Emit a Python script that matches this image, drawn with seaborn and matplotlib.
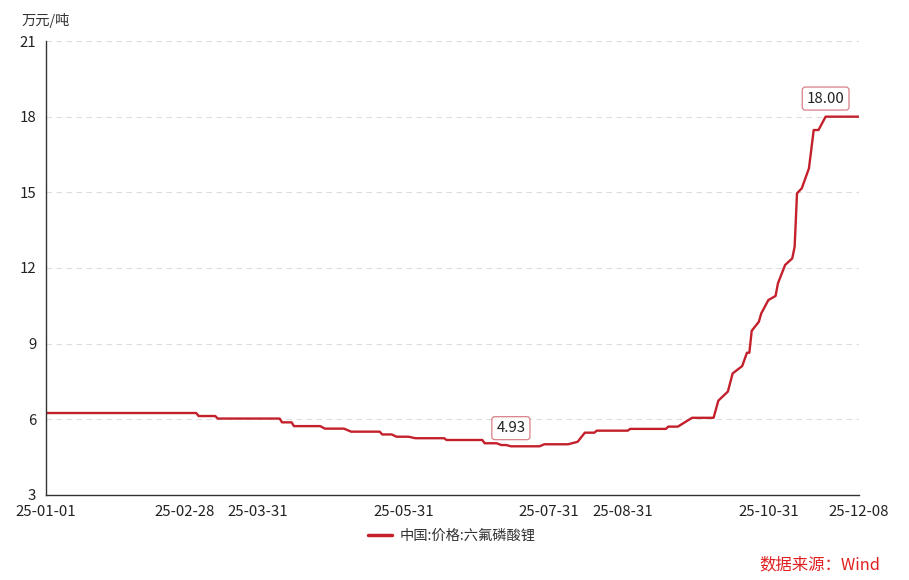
import pandas as pd
import matplotlib.pyplot as plt
import seaborn as sns

# Price of LiPF6 in China (万元/吨)
dates = ["2025-01-01", "2025-03-05", "2025-03-06", "2025-03-13", "2025-03-14",
         "2025-04-09", "2025-04-10", "2025-04-14", "2025-04-15", "2025-04-26",
         "2025-04-28", "2025-05-06", "2025-05-09", "2025-05-21", "2025-05-22",
         "2025-05-26", "2025-05-28", "2025-06-02", "2025-06-05", "2025-06-17",
         "2025-06-18", "2025-07-03", "2025-07-04", "2025-07-09", "2025-07-11",
         "2025-07-13", "2025-07-15", "2025-07-27", "2025-07-29", "2025-08-08",
         "2025-08-12", "2025-08-15", "2025-08-19", "2025-08-20", "2025-09-02",
         "2025-09-03", "2025-09-18", "2025-09-19", "2025-09-23", "2025-09-29",
         "2025-10-08", "2025-10-10", "2025-10-14", "2025-10-16", "2025-10-20",
         "2025-10-22", "2025-10-23", "2025-10-24", "2025-10-27", "2025-10-28",
         "2025-10-31", "2025-11-03", "2025-11-04", "2025-11-07", "2025-11-10",
         "2025-11-11", "2025-11-12", "2025-11-14", "2025-11-17", "2025-11-19",
         "2025-11-21", "2025-11-24", "2025-12-08"]
prices = [6.25, 6.25, 6.13, 6.13, 6.03,
          6.03, 5.88, 5.88, 5.73, 5.73,
          5.63, 5.63, 5.51, 5.51, 5.40,
          5.40, 5.31, 5.31, 5.25, 5.25,
          5.18, 5.18, 5.05, 5.05, 4.98,
          4.98, 4.93, 4.93, 5.01, 5.01,
          5.11, 5.47, 5.47, 5.55, 5.55,
          5.62, 5.62, 5.71, 5.71, 6.06,
          6.06, 6.74, 7.10, 7.82, 8.11,
          8.64, 8.64, 9.51, 9.87, 10.20,
          10.73, 10.89, 11.39, 12.12, 12.38,
          12.84, 14.96, 15.16, 15.95, 17.47,
          17.47, 18.00, 18.00]

tick_dates = ["2025-01-01", "2025-01-31", "2025-02-28", "2025-03-31", "2025-04-30",
              "2025-05-31", "2025-06-30", "2025-07-31", "2025-08-31", "2025-09-30",
              "2025-10-31", "2025-11-30", "2025-12-08"]
tick_labels = ["25-01-01", "", "25-02-28", "25-03-31", "", "25-05-31", "",
               "25-07-31", "25-08-31", "", "25-10-31", "", "25-12-08"]
y_ticks = [3, 6, 9, 12, 15, 18, 21]

series_name = "中国:价格:六氟磷酸锂"
line_color = "#c4202b"

df = pd.DataFrame({"date": pd.to_datetime(dates), "price": prices})

sns.set_style("white")
plt.rcParams["font.family"] = ["Noto Sans CJK SC", "DejaVu Sans"]
plt.rcParams["axes.unicode_minus"] = False

fig = plt.figure(figsize=(9.09, 5.8), dpi=100)
ax = fig.add_axes([0.0506, 0.1466, 0.8944, 0.7827])

sns.lineplot(data=df, x="date", y="price", color=line_color, linewidth=1.7,
             label=series_name, ax=ax)

# axes styling
ax.set_xlim(pd.Timestamp("2025-01-01"), pd.Timestamp("2025-12-08"))
ax.set_ylim(3, 21)
ax.set_yticks(y_ticks)
ax.set_xticks(pd.to_datetime(tick_dates))
ax.set_xticklabels(tick_labels)
ax.set_xlabel("")
ax.set_ylabel("")
for side in ["top", "right"]:
    ax.spines[side].set_visible(False)
for side in ["left", "bottom"]:
    ax.spines[side].set_color("#333333")
    ax.spines[side].set_linewidth(1.0)
ax.tick_params(axis="both", direction="out", length=6, width=1.0,
               color="#333333", labelcolor="#222222", labelsize=10.8, pad=1.0)
ax.grid(axis="y", linestyle=(0, (5, 4)), color="#dddddd", linewidth=0.8)
ax.grid(axis="x", visible=False)
ax.set_axisbelow(True)

# min / max labels
bbox = dict(boxstyle="round,pad=0.3,rounding_size=0.2", fc="white",
            ec="#d98088", lw=0.9)
min_i = df["price"].idxmin()
max_i = df["price"].idxmax()
for i in [min_i, max_i]:
    ax.annotate(f"{df['price'][i]:.2f}", (df["date"][i], df["price"][i]),
                xytext=(0, 8), textcoords="offset points", ha="center",
                va="bottom", fontsize=10.8, color="#222222", bbox=bbox)

# unit label
fig.text(22 / 909, 1 - 20 / 580, "万元/吨", fontsize=10.3, color="#333333",
         va="center", ha="left")

# legend
ax.legend_.remove()
leg = fig.legend(loc="center", bbox_to_anchor=(0.497, 1 - 536 / 580), frameon=False,
                 fontsize=10.3, handlelength=1.7, handletextpad=0.5,
                 labelcolor="#333333")
for h in leg.get_lines():
    h.set_linewidth(2.5)

# source
fig.text(880 / 909, 1 - 565 / 580, "数据来源：Wind", fontsize=11.8,
         color="#e02020", ha="right", va="center")

fig.savefig("out.png", dpi=100)
